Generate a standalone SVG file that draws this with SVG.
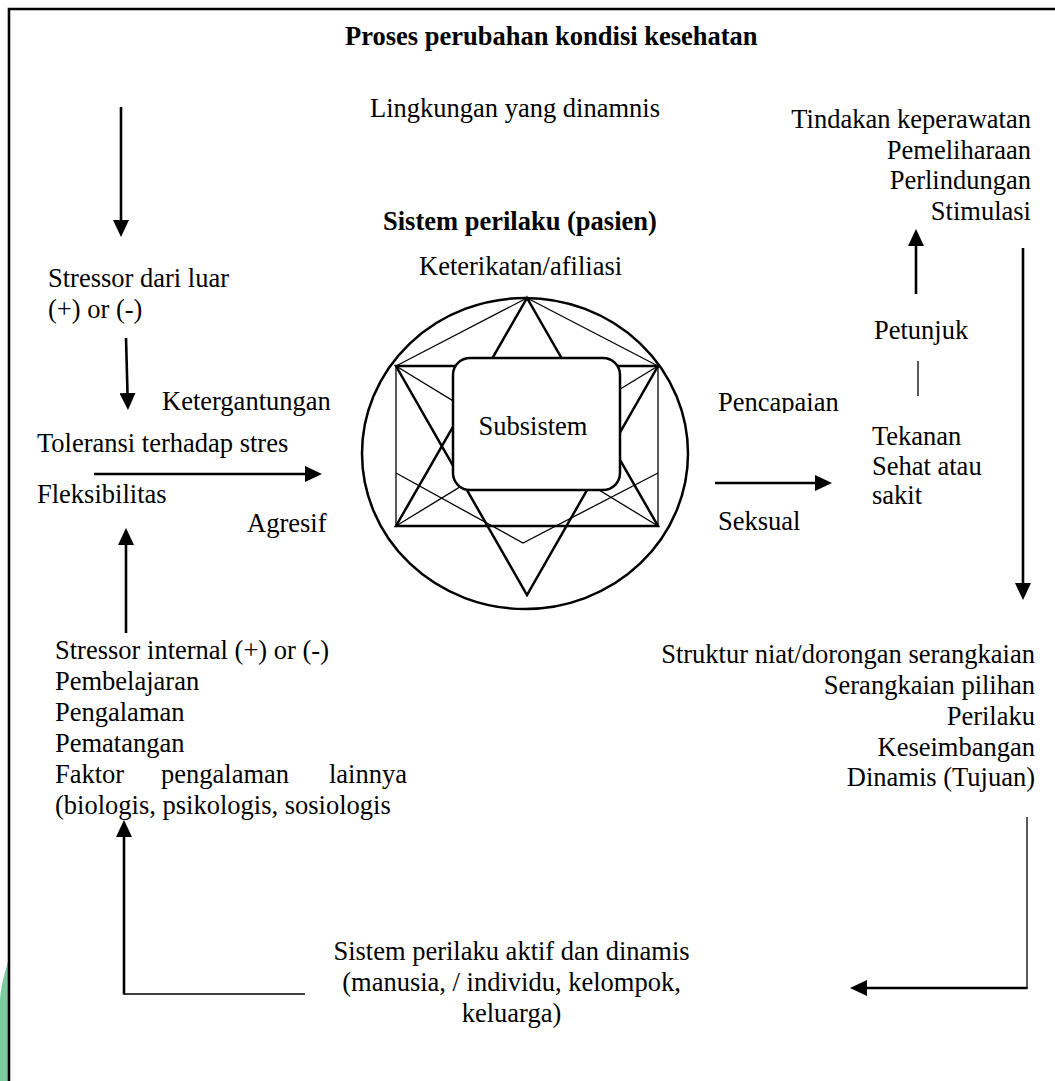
<svg xmlns="http://www.w3.org/2000/svg" width="1055" height="1081" viewBox="0 0 1055 1081">
<style>
  text { font-family: "Liberation Serif", "Times New Roman", serif; font-size: 26.5px; fill: #000; }
  .b { font-weight: bold; }
  .r { text-anchor: end; }
  .c { text-anchor: middle; }
  .thick { stroke: #000; stroke-width: 2.5; fill: none; }
  .thin { stroke: #000; stroke-width: 1.3; fill: none; }
  .arr { stroke: #000; stroke-width: 2.6; fill: none; marker-end: url(#ah); }
</style>
<defs>
  <marker id="ah" markerUnits="userSpaceOnUse" viewBox="0 0 17 16" markerWidth="17" markerHeight="16" refX="7" refY="8" orient="auto">
    <path d="M0,0 L17,8 L0,16 Z" fill="#000"/>
  </marker>
  <clipPath id="clipPenc"><rect x="700" y="380" width="150" height="33"/></clipPath>
</defs>
<rect width="1055" height="1081" fill="#fff"/>
<path d="M8,962 C4,975 0,990 0,1002 L0,1081 L8,1081 Z" fill="#7ecba1"/>
<path id="frame" d="M9,1081 V9 H1055" stroke="#000" stroke-width="2.6" fill="none"/>

<g id="title"><text class="b" x="345" y="45">Proses perubahan kondisi kesehatan</text></g>
<g id="lingkungan"><text x="370" y="117">Lingkungan yang dinamnis</text></g>
<g id="sistem-perilaku"><text class="b" x="383" y="230">Sistem perilaku (pasien)</text></g>
<g id="keterikatan"><text x="419" y="275">Keterikatan/afiliasi</text></g>

<g id="tindakan">
  <text class="r" x="1031" y="128">Tindakan keperawatan</text>
  <text class="r" x="1031" y="158.5">Pemeliharaan</text>
  <text class="r" x="1031" y="189">Perlindungan</text>
  <text class="r" x="1031" y="219.5">Stimulasi</text>
</g>

<g id="stressor-luar">
  <text x="48" y="287">Stressor dari luar</text>
  <text x="48" y="318">(+) or (-)</text>
</g>
<g id="ketergantungan"><text x="162" y="410">Ketergantungan</text></g>
<g id="toleransi">
  <text x="37" y="452">Toleransi terhadap stres</text>
  <text x="37" y="503">Fleksibilitas</text>
</g>
<g id="agresif"><text x="247" y="532">Agresif</text></g>

<g id="star">
  <ellipse cx="525" cy="453.5" rx="163" ry="155.5" class="thick" stroke-width="2.2"/>
  <line x1="396" y1="366" x2="396" y2="526" class="thin"/>
  <line x1="658" y1="366" x2="658" y2="526" class="thin"/>
  <line x1="527" y1="298" x2="396" y2="366" class="thin"/>
  <line x1="527" y1="298" x2="658" y2="366" class="thin"/>
  <line x1="396" y1="366" x2="658" y2="526" class="thin"/>
  <line x1="658" y1="366" x2="396" y2="526" class="thin"/>
  <polyline points="396,473 523,543 658,473" class="thin"/>
  <polygon points="527,298 396,526 658,526" class="thick" stroke-linejoin="miter"/>
  <polygon points="396,366 658,366 527,595" class="thick" stroke-linejoin="miter"/>
</g>
<g id="subsistem">
  <rect x="453" y="358" width="167" height="132" rx="17" ry="17" fill="#fff" stroke="#000" stroke-width="2.5"/>
  <text class="c" x="533" y="435">Subsistem</text>
</g>

<g id="pencapaian"><text x="718" y="411" clip-path="url(#clipPenc)">Pencapaian</text></g>
<g id="seksual"><text x="718" y="530">Seksual</text></g>
<g id="petunjuk"><text x="874" y="339">Petunjuk</text></g>
<g id="tekanan">
  <text x="872" y="445">Tekanan</text>
  <text x="872" y="475">Sehat atau</text>
  <text x="872" y="504">sakit</text>
</g>

<g id="struktur">
  <text class="r" x="1035" y="663">Struktur niat/dorongan serangkaian</text>
  <text class="r" x="1035" y="694">Serangkaian pilihan</text>
  <text class="r" x="1035" y="725">Perilaku</text>
  <text class="r" x="1035" y="755.5">Keseimbangan</text>
  <text class="r" x="1035" y="786">Dinamis (Tujuan)</text>
</g>

<g id="stressor-internal">
  <text x="55" y="659">Stressor internal (+) or (-)</text>
  <text x="55" y="690">Pembelajaran</text>
  <text x="55" y="721">Pengalaman</text>
  <text x="55" y="752">Pematangan</text>
  <text y="783"><tspan x="55">Faktor</tspan><tspan x="161">pengalaman</tspan><tspan x="329">lainnya</tspan></text>
  <text x="55" y="814">(biologis, psikologis, sosiologis</text>
</g>

<g id="sistem-aktif">
  <text class="c" x="511.5" y="960">Sistem perilaku aktif dan dinamis</text>
  <text class="c" x="511.5" y="991">(manusia, / individu, kelompok,</text>
  <text class="c" x="511.5" y="1022">keluarga)</text>
</g>

<g id="connectors">
  <line x1="121" y1="107" x2="121" y2="227" class="arr"/>
  <line x1="126" y1="338" x2="127.7" y2="400" class="arr"/>
  <line x1="94" y1="474" x2="312" y2="474" class="arr"/>
  <line x1="126" y1="633" x2="126" y2="538" class="arr"/>
  <line x1="715" y1="483" x2="822" y2="483" class="arr"/>
  <line x1="916" y1="294" x2="916" y2="239" class="arr"/>
  <line x1="1023" y1="248" x2="1023" y2="590" class="arr"/>
  <line x1="918" y1="361" x2="918" y2="396" class="thin" stroke-width="1.1"/>
  <line x1="1027" y1="817" x2="1027" y2="988.5" class="thin"/>
  <line x1="1027.6" y1="988" x2="860" y2="988" class="arr"/>
  <line x1="305" y1="994" x2="124" y2="994" class="thin"/>
  <line x1="124" y1="994.6" x2="124" y2="830" class="arr"/>
</g>
</svg>
